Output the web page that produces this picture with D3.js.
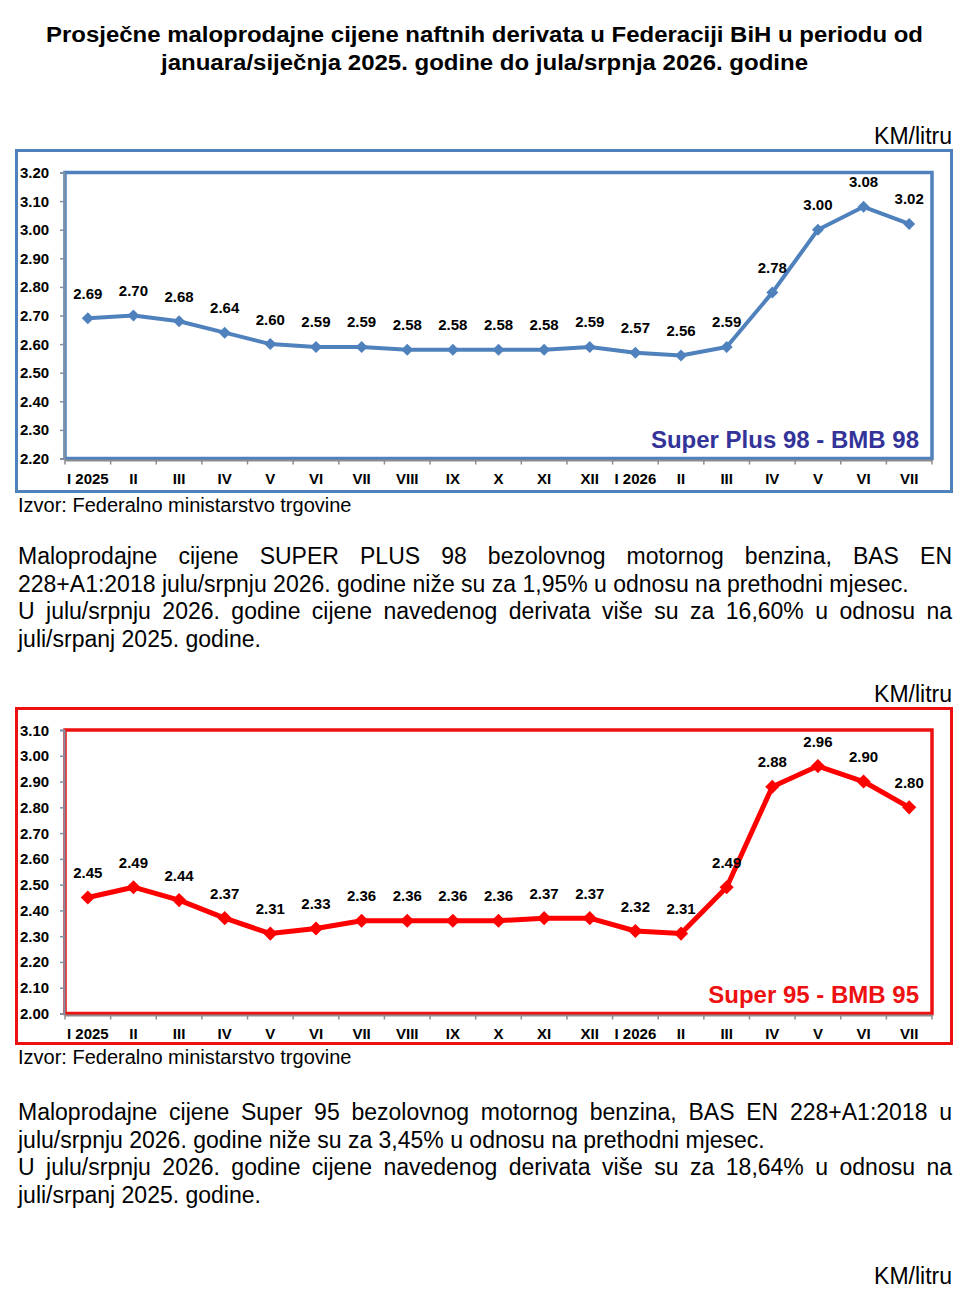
<!DOCTYPE html>
<html>
<head>
<meta charset="utf-8">
<script src="https://cdn.jsdelivr.net/npm/d3@7"></script>
<style>
  body { margin: 0; background: #fff; }
  #page { position: relative; width: 961px; height: 1309px; font-family: "Liberation Sans", Arial, sans-serif; }
  #page svg { position: absolute; left: 0; top: 0; }
  .para { position: absolute; left: 18px; width: 934px; font-size: 23px; line-height: 27.7px; color: #000; }
  .para div { white-space: nowrap; }
  .para .just { text-align: justify; text-align-last: justify; white-space: normal; }
</style>
</head>
<body>
<div id="page"></div>
<script>
// Data
var months = ["I 2025", "II", "III", "IV", "V", "VI", "VII", "VIII", "IX", "X", "XI", "XII",
              "I 2026", "II", "III", "IV", "V", "VI", "VII"];
var super98 = [2.69, 2.70, 2.68, 2.64, 2.60, 2.59, 2.59, 2.58, 2.58, 2.58, 2.58, 2.59,
               2.57, 2.56, 2.59, 2.78, 3.00, 3.08, 3.02];
var super95 = [2.45, 2.49, 2.44, 2.37, 2.31, 2.33, 2.36, 2.36, 2.36, 2.36, 2.37, 2.37,
               2.32, 2.31, 2.49, 2.88, 2.96, 2.90, 2.80];
var ticks98 = [2.20, 2.30, 2.40, 2.50, 2.60, 2.70, 2.80, 2.90, 3.00, 3.10, 3.20];
var ticks95 = [2.00, 2.10, 2.20, 2.30, 2.40, 2.50, 2.60, 2.70, 2.80, 2.90, 3.00, 3.10];

var titleLines = ["Prosječne maloprodajne cijene naftnih derivata u Federaciji BiH u periodu od",
                  "januara/siječnja 2025. godine do jula/srpnja 2026. godine"];
var titleWidths = [877, 647];
var para98 = [
  ["Maloprodajne cijene SUPER PLUS 98 bezolovnog motornog benzina, BAS EN", true],
  ["228+A1:2018 julu/srpnju 2026. godine niže su za 1,95% u odnosu na prethodni mjesec.", false],
  ["U julu/srpnju 2026. godine cijene navedenog derivata više su za 16,60% u odnosu na", true],
  ["juli/srpanj 2025. godine.", false]
];
var para95 = [
  ["Maloprodajne cijene Super 95 bezolovnog motornog benzina, BAS EN 228+A1:2018 u", true],
  ["julu/srpnju 2026. godine niže su za 3,45% u odnosu na prethodni mjesec.", false],
  ["U julu/srpnju 2026. godine cijene navedenog derivata više su za 18,64% u odnosu na", true],
  ["juli/srpanj 2025. godine.", false]
];

var page = d3.select("#page");
var svg = page.append("svg")
    .attr("width", 961)
    .attr("height", 1309)
    .style("font-family", "'Liberation Sans', Arial, sans-serif");

// Title
svg.selectAll(".title")
    .data(titleLines)
    .enter().append("text")
    .attr("class", "title")
    .attr("x", 484.5)
    .attr("y", (d, i) => 42 + i * 28)
    .attr("text-anchor", "middle")
    .attr("textLength", (d, i) => titleWidths[i])
    .attr("lengthAdjust", "spacingAndGlyphs")
    .style("font-size", "22px")
    .style("font-weight", "bold")
    .text(d => d);

function drawChart(cfg) {
    var g = svg.append("g");

    // unit label
    g.append("text")
        .attr("x", 952)
        .attr("y", cfg.top - 6)
        .attr("text-anchor", "end")
        .style("font-size", "23px")
        .text("KM/litru");

    // outer frame
    g.append("rect")
        .attr("x", 16.5)
        .attr("y", cfg.top + 0.5)
        .attr("width", 935)
        .attr("height", cfg.height)
        .attr("fill", "none")
        .attr("stroke", cfg.frame)
        .attr("stroke-width", 3);

    var x = d3.scaleBand()
        .domain(d3.range(months.length))
        .range([65, 932]);

    var y = d3.scaleLinear()
        .domain(cfg.domain)
        .range([cfg.plotBottom, cfg.plotTop]);

    // plot area frame
    g.append("rect")
        .attr("x", 65)
        .attr("y", cfg.plotTop)
        .attr("width", 932 - 65)
        .attr("height", cfg.plotBottom - cfg.plotTop)
        .attr("fill", "none")
        .attr("stroke", cfg.frame)
        .attr("stroke-width", 3.5);

    // y axis
    var yAxis = g.append("g")
        .attr("transform", "translate(64,0)")
        .call(d3.axisLeft(y).tickValues(cfg.ticks).tickSize(4).tickFormat(""));
    yAxis.select(".domain").attr("stroke", "#8391a5").attr("stroke-width", 2);
    yAxis.selectAll(".tick line").attr("stroke", "#8391a5").attr("stroke-width", 1.5);

    g.selectAll(".ylab")
        .data(cfg.ticks)
        .enter().append("text")
        .attr("x", 20)
        .attr("y", d => y(d) + 5.5)
        .style("font-size", "15px")
        .style("font-weight", "bold")
        .text(d => d.toFixed(2));

    // x axis
    var xAxis = g.append("g")
        .attr("transform", "translate(0," + (cfg.plotBottom + 1.5) + ")")
        .call(d3.axisBottom(x).tickSize(0).tickFormat(""));
    xAxis.select(".domain").attr("stroke", "#8c8c8c").attr("stroke-width", 2);

    var bounds = d3.range(months.length + 1).map(i => 65 + i * x.step());
    g.selectAll(".xtick")
        .data(bounds)
        .enter().append("line")
        .attr("x1", d => d)
        .attr("x2", d => d)
        .attr("y1", cfg.plotBottom + 1.5)
        .attr("y2", cfg.plotBottom + 6)
        .attr("stroke", "#8c8c8c")
        .attr("stroke-width", 1.5);

    g.selectAll(".xlab")
        .data(months)
        .enter().append("text")
        .attr("x", (d, i) => x(i) + x.bandwidth() / 2)
        .attr("y", cfg.plotBottom + 25)
        .attr("text-anchor", "middle")
        .style("font-size", "15px")
        .style("font-weight", "bold")
        .text(d => d);

    // line
    var line = d3.line()
        .x((d, i) => x(i) + x.bandwidth() / 2)
        .y(d => y(d));

    g.append("path")
        .datum(cfg.values)
        .attr("d", line)
        .attr("fill", "none")
        .attr("stroke", cfg.lineColor)
        .attr("stroke-width", cfg.lineWidth)
        .attr("stroke-linejoin", "round");

    // diamond markers
    g.selectAll(".marker")
        .data(cfg.values)
        .enter().append("path")
        .attr("d", d3.symbol().type(d3.symbolSquare).size(cfg.markerSize))
        .attr("transform", (d, i) => "translate(" + (x(i) + x.bandwidth() / 2) + "," + y(d) + ") rotate(45)")
        .attr("fill", cfg.lineColor);

    // data labels
    g.selectAll(".dlab")
        .data(cfg.values)
        .enter().append("text")
        .attr("x", (d, i) => x(i) + x.bandwidth() / 2)
        .attr("y", d => y(d) - 19.5)
        .attr("text-anchor", "middle")
        .style("font-size", "15px")
        .style("font-weight", "bold")
        .text(d => d.toFixed(2));

    // series label
    g.append("text")
        .attr("x", 919)
        .attr("y", cfg.plotBottom - 11)
        .attr("text-anchor", "end")
        .style("font-size", "24px")
        .style("font-weight", "bold")
        .style("fill", cfg.nameColor)
        .text(cfg.name);

    // source
    g.append("text")
        .attr("x", 18)
        .attr("y", cfg.top + cfg.height + 21)
        .style("font-size", "20px")
        .text("Izvor: Federalno ministarstvo trgovine");
}

drawChart({
    top: 150, height: 341,
    plotTop: 172.5, plotBottom: 458.5,
    domain: [2.2, 3.2], ticks: ticks98, values: super98,
    frame: "#4f81bd", lineColor: "#4f81bd", lineWidth: 4, markerSize: 72,
    name: "Super Plus 98 - BMB 98", nameColor: "#333399"
});

drawChart({
    top: 708, height: 335,
    plotTop: 730, plotBottom: 1013.5,
    domain: [2.0, 3.1], ticks: ticks95, values: super95,
    frame: "#ee1111", lineColor: "#ff0000", lineWidth: 5, markerSize: 100,
    name: "Super 95 - BMB 95", nameColor: "#ee1111"
});

// bottom unit label
svg.append("text")
    .attr("x", 952)
    .attr("y", 1284)
    .attr("text-anchor", "end")
    .style("font-size", "23px")
    .text("KM/litru");

// paragraphs
function addPara(lines, top) {
    var p = page.append("div")
        .attr("class", "para")
        .style("top", top + "px");
    p.selectAll("div")
        .data(lines)
        .enter().append("div")
        .attr("class", d => d[1] ? "just" : null)
        .text(d => d[0]);
}
addPara(para98, 543);
addPara(para95, 1099);
</script>
</body>
</html>
